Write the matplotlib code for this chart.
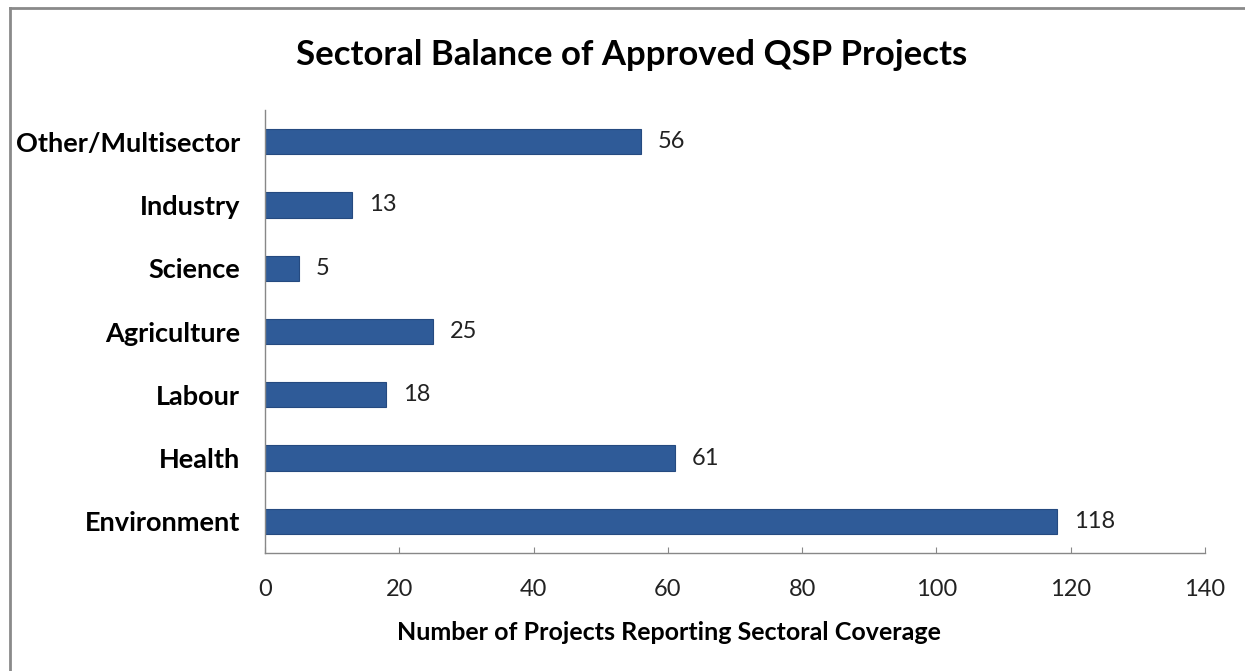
import numpy as np
import matplotlib.pyplot as plt
from matplotlib.lines import Line2D

plt.rcParams['font.family'] = ['Lato', 'DejaVu Sans']

sectors = ['Environment', 'Health', 'Labour', 'Agriculture', 'Science',
           'Industry', 'Other/Multisector']
counts = [118, 61, 18, 25, 5, 13, 56]
xticks = [0, 20, 40, 60, 80, 100, 120, 140]

W, H = 1245, 671
fig = plt.figure(figsize=(W / 100, H / 100), dpi=100)
ax = fig.add_axes([265 / W, 1 - 553 / H, (1205 - 265) / W, (553 - 110) / H])

y = np.arange(len(sectors))
ax.barh(y, counts, height=0.4, color='#2f5b98', edgecolor='#254a80', linewidth=0.8)
for yi, c in zip(y, counts):
    ax.text(c + 2.5, yi, str(c), va='center', ha='left', fontsize=17, color='#222222')

ax.set_ylim(-0.5, len(sectors) - 0.5)
ax.set_xlim(0, 140)
ax.set_xticks(xticks)
ax.set_yticks(y)
ax.set_yticklabels(sectors, fontsize=19.5, fontweight='bold')
ax.tick_params(axis='y', length=0, pad=18)
ax.tick_params(axis='x', direction='in', length=4, color='#888888', labelsize=17,
               pad=19, labelcolor='#222222')
for s in ['top', 'right']:
    ax.spines[s].set_visible(False)
for s in ['left', 'bottom']:
    ax.spines[s].set_color('#888888')
    ax.spines[s].set_linewidth(1.0)

# x axis title sits left of the axes centre in the original
fig.text(669 / W, 1 - 633 / H, 'Number of Projects Reporting Sectoral Coverage',
         ha='center', va='center', fontsize=18, fontweight='bold')
fig.text(632 / W, 1 - 55 / H, 'Sectoral Balance of Approved QSP Projects',
         ha='center', va='center', fontsize=25, fontweight='bold')

# outer frame (top and left edges visible)
fig.add_artist(Line2D([10 / W, 10 / W], [0, 1 - 8 / H], transform=fig.transFigure,
                      color='#8a8a8a', linewidth=2))
fig.add_artist(Line2D([10 / W, 1], [1 - 8 / H, 1 - 8 / H], transform=fig.transFigure,
                      color='#8a8a8a', linewidth=2))

fig.savefig('out.png', dpi=100)
